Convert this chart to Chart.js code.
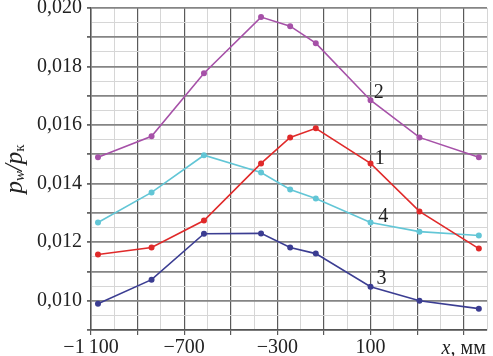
<!DOCTYPE html>
<html>
<head>
<meta charset="utf-8">
<script src="https://cdn.jsdelivr.net/npm/chart.js@4/dist/chart.umd.min.js"></script>
<style>
html,body{margin:0;padding:0;background:#fff;}
#c{display:block;}
</style>
</head>
<body>
<canvas id="c" width="493" height="356"></canvas>
<script>
// ---- data ----
const xPositions = [-1070, -840, -615, -370, -245, -135, 100, 310, 565];
const series1 = [0.01158, 0.01182, 0.01274, 0.01469, 0.01558, 0.01589, 0.01469, 0.01305, 0.01178];
const series2 = [0.01490, 0.01562, 0.01777, 0.01969, 0.01938, 0.01880, 0.01685, 0.01558, 0.01490];
const series3 = [0.00990, 0.01072, 0.01229, 0.01230, 0.01182, 0.01161, 0.01048, 0.01000, 0.00973];
const series4 = [0.01267, 0.01370, 0.01497, 0.01438, 0.01380, 0.01349, 0.01267, 0.01236, 0.01223];
const seriesNames = ['1', '2', '3', '4'];
const seriesColors = ['#e02a2a', '#a651a8', '#3b3d92', '#62c6d6'];
const labelAnchors = [[140, 0.01486], [135, 0.01709], [147, 0.01075], [155, 0.01288]];
const xTickLabels = {'-1100': '\u22121\u2009100', '-700': '\u2212700', '-300': '\u2212300', '100': '100'};
const xUnitLabel = ['x,', ' мм'];

const allSeries = [series1, series2, series3, series4];
const datasets = allSeries.map((s, i) => ({
  label: seriesNames[i],
  data: s.map((v, j) => ({x: xPositions[j], y: v})),
  borderColor: seriesColors[i],
  backgroundColor: seriesColors[i],
  borderWidth: 1.6,
  pointRadius: 2.2,
  pointHoverRadius: 2.2,
  showLine: true,
  tension: 0
}));

const serif = '"Liberation Serif", "DejaVu Serif", serif';

const annot = {
  id: 'annot',
  afterDraw(chart) {
    const ctx = chart.ctx;
    const xs = chart.scales.x, ys = chart.scales.y;
    ctx.save();
    ctx.fillStyle = '#222';
    ctx.textBaseline = 'middle';
    ctx.textAlign = 'center';
    ctx.font = '20px ' + serif;
    labelAnchors.forEach((a, i) => {
      ctx.fillText(seriesNames[i], xs.getPixelForValue(a[0]), ys.getPixelForValue(a[1]));
    });
    // x unit label
    const ux = xs.getPixelForValue(500);
    const uy = 349;
    ctx.textAlign = 'left';
    ctx.font = 'italic 20px ' + serif;
    const w1 = ctx.measureText(xUnitLabel[0]).width;
    ctx.font = '20px ' + serif;
    const w2 = ctx.measureText(xUnitLabel[1]).width;
    let sx = ux - (w1 + w2) / 2;
    ctx.font = 'italic 20px ' + serif;
    ctx.fillText(xUnitLabel[0], sx, uy);
    ctx.font = '20px ' + serif;
    ctx.fillText(xUnitLabel[1], sx + w1, uy);
    // y title p_w / p_к
    ctx.translate(15, 169);
    ctx.rotate(-Math.PI / 2);
    const parts = [
      ['italic 25px ' + serif, 'p', 0],
      ['italic 15px ' + serif, 'w', 5],
      ['italic 25px ' + serif, '/', 0],
      ['italic 25px ' + serif, 'p', 0],
      ['15px ' + serif, 'к', 5]
    ];
    let total = 0;
    parts.forEach(p => { ctx.font = p[0]; total += ctx.measureText(p[1]).width; });
    let px = -total / 2;
    ctx.textAlign = 'left';
    parts.forEach(p => {
      ctx.font = p[0];
      ctx.fillText(p[1], px, p[2]);
      px += ctx.measureText(p[1]).width;
    });
    ctx.restore();
  }
};

function isMajorX(v) { return ((Math.round(v) + 1100) % 200) === 0; }
function isMajorY(v) { return Math.round(v * 10000) % 10 === 0; }

new Chart(document.getElementById('c'), {
  type: 'scatter',
  data: { datasets },
  options: {
    responsive: false,
    animation: false,
    devicePixelRatio: 1,
    layout: { padding: { top: 8, right: 6, left: 0, bottom: 0 } },
    plugins: { legend: { display: false }, tooltip: { enabled: false } },
    scales: {
      x: {
        type: 'linear',
        min: -1100, max: 600,
        afterFit(s) { s.height = 26; s.paddingLeft = 0; s.paddingRight = 0; },
        afterBuildTicks(s) {
          const t = [];
          for (let v = -1100; v <= 600; v += 100) t.push({value: v});
          s.ticks = t;
        },
        ticks: {
          autoSkip: false, maxRotation: 0, padding: 1,
          color: '#222',
          font: { family: serif, size: 20 },
          callback: v => xTickLabels[String(Math.round(v))] || ''
        },
        grid: {
          color: c => isMajorX(c.tick.value) ? '#5a5a5a' : '#d6d6d6',
          lineWidth: c => isMajorX(c.tick.value) ? 1.2 : 1,
          tickLength: 5,
          tickColor: c => isMajorX(c.tick.value) ? '#5a5a5a' : 'rgba(0,0,0,0)'
        },
        border: { display: true, color: '#555', width: 1.5 }
      },
      y: {
        type: 'linear',
        min: 0.009, max: 0.020,
        afterFit(s) { s.width = 91; s.paddingTop = 0; s.paddingBottom = 0; },
        afterBuildTicks(s) {
          const t = [];
          for (let k = 90; k <= 200; k += 5) t.push({value: k / 10000});
          s.ticks = t;
        },
        ticks: {
          autoSkip: false, padding: 5,
          color: '#222',
          font: { family: serif, size: 20 },
          callback: v => (Math.round(v * 10000) % 20 === 0) ? v.toFixed(3).replace('.', ',') : ''
        },
        grid: {
          color: c => isMajorY(c.tick.value) ? '#858585' : '#d6d6d6',
          lineWidth: c => isMajorY(c.tick.value) ? 1.8 : 1,
          tickLength: 4,
          tickColor: c => isMajorY(c.tick.value) ? '#666' : 'rgba(0,0,0,0)'
        },
        border: { display: true, color: '#555', width: 1.5 }
      }
    }
  },
  plugins: [annot]
});
</script>
</body>
</html>
